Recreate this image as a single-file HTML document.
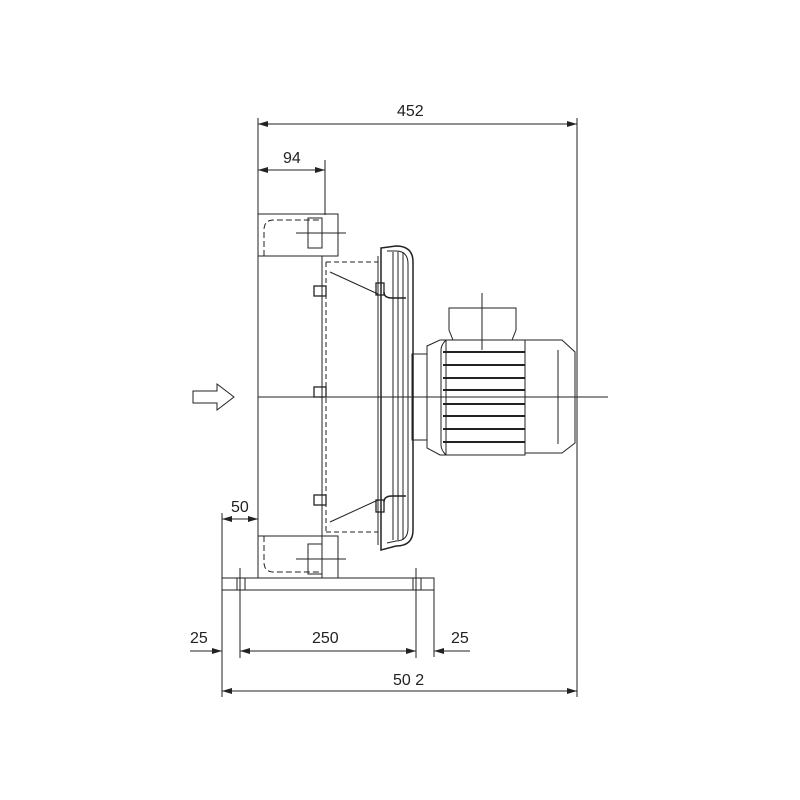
<!DOCTYPE html>
<html><head><meta charset="utf-8"><style>body{margin:0;background:#fff}svg{display:block}text{font-family:"Liberation Sans",sans-serif;font-size:16px;fill:#222}</style></head>
<body>
<svg width="800" height="800" viewBox="0 0 800 800" xmlns="http://www.w3.org/2000/svg">
<defs><marker id="a" viewBox="0 0 10 6" refX="10" refY="3" markerWidth="10" markerHeight="6" orient="auto-start-reverse" markerUnits="userSpaceOnUse"><path d="M0,0L10,3L0,6z" fill="#222"/></marker></defs>
<g stroke="#222" stroke-width="1" fill="none">
<line x1="258" y1="118" x2="258" y2="214"/>
<line x1="577" y1="118" x2="577" y2="697"/>
<line x1="258" y1="124" x2="577" y2="124" marker-start="url(#a)" marker-end="url(#a)"/>
<line x1="325" y1="160" x2="325" y2="215"/>
<line x1="258" y1="170" x2="325" y2="170" marker-start="url(#a)" marker-end="url(#a)"/>
<line x1="222" y1="513" x2="222" y2="697"/>
<line x1="222" y1="519" x2="258" y2="519" marker-start="url(#a)" marker-end="url(#a)"/>
<line x1="240" y1="568" x2="240" y2="658"/>
<line x1="416" y1="568" x2="416" y2="658"/>
<line x1="434" y1="578" x2="434" y2="657"/>
<line x1="190" y1="651" x2="222" y2="651" marker-end="url(#a)"/>
<line x1="240" y1="651" x2="416" y2="651" marker-start="url(#a)" marker-end="url(#a)"/>
<line x1="470" y1="651" x2="434" y2="651" marker-end="url(#a)"/>
<line x1="222" y1="691" x2="577" y2="691" marker-start="url(#a)" marker-end="url(#a)"/>
<line x1="258" y1="214" x2="258" y2="578"/>
<path d="M258,214H338V256H258"/>
<path d="M258,536H338V578H258"/>
<path d="M264,256V230Q264,220 274,220H320" stroke-dasharray="6,3"/>
<path d="M264,536V562Q264,572 274,572H320" stroke-dasharray="6,3"/>
<rect x="308" y="218" width="14" height="30"/><rect x="308" y="544" width="14" height="30"/>
<line x1="296" y1="233" x2="346" y2="233"/><line x1="296" y1="559" x2="346" y2="559"/>
<rect x="222" y="578" width="212" height="12"/>
<line x1="237" y1="578" x2="237" y2="590"/><line x1="245" y1="578" x2="245" y2="590"/>
<line x1="413" y1="578" x2="413" y2="590"/><line x1="421" y1="578" x2="421" y2="590"/>
<line x1="322" y1="256" x2="322" y2="578"/>
<line x1="326" y1="262" x2="326" y2="532" stroke-dasharray="5,3"/>
<path d="M326,262H378M326,532H378" stroke-dasharray="5,3"/>
<path d="M322,256H338"/>
<line x1="330" y1="272" x2="378" y2="294"/>
<line x1="330" y1="522" x2="378" y2="500"/>
<line x1="378" y1="256" x2="378" y2="545"/>
<line x1="258" y1="397" x2="608" y2="397"/>
<g stroke-width="1.3"><rect x="314" y="286" width="12" height="10"/><rect x="314" y="387" width="12" height="10"/><rect x="314" y="495" width="12" height="10"/><rect x="376" y="283" width="8" height="12"/><rect x="376" y="500" width="8" height="12"/></g>
<path d="M381,248L396,246Q413,246 413,262V530Q413,546 396,546L381,550Z" stroke-width="1.5"/>
<path d="M387,251L396,251Q408,251 408,264V528Q408,541 396,541L387,543"/>
<line x1="393" y1="252" x2="393" y2="540"/><line x1="398" y1="252" x2="398" y2="540"/><line x1="403" y1="252" x2="403" y2="540"/>
<path d="M384,292Q384,298 392,298H406M384,502Q384,496 392,496H406" stroke-width="1.5"/>
<rect x="412" y="354" width="15" height="86"/>
<path d="M427,346L440,340H446V455H440L427,448Z"/>
<path d="M449,308H516V330L512,340H453L449,330Z"/>
<line x1="482" y1="293" x2="482" y2="350"/>
<path d="M446,340H525V455H446Q441,450 441,445V350Q441,345 446,340Z"/>
<g stroke-width="2"><line x1="443" y1="352" x2="525" y2="352"/><line x1="443" y1="365" x2="525" y2="365"/><line x1="443" y1="378" x2="525" y2="378"/><line x1="443" y1="390" x2="525" y2="390"/><line x1="443" y1="404" x2="525" y2="404"/><line x1="443" y1="416" x2="525" y2="416"/><line x1="443" y1="429" x2="525" y2="429"/><line x1="443" y1="442" x2="525" y2="442"/></g>
<path d="M525,340H562L575,352V443L562,453H525Z"/>
<line x1="558" y1="350" x2="558" y2="444"/>
<path d="M193,391H217V384L234,397L217,410V403H193Z"/>
</g>
<text x="397" y="116">452</text>
<text x="283" y="163">94</text>
<text x="231" y="512">50</text>
<text x="190" y="643">25</text>
<text x="312" y="643">250</text>
<text x="451" y="643">25</text>
<text x="393" y="685">50 2</text>
</svg>
</body></html>
